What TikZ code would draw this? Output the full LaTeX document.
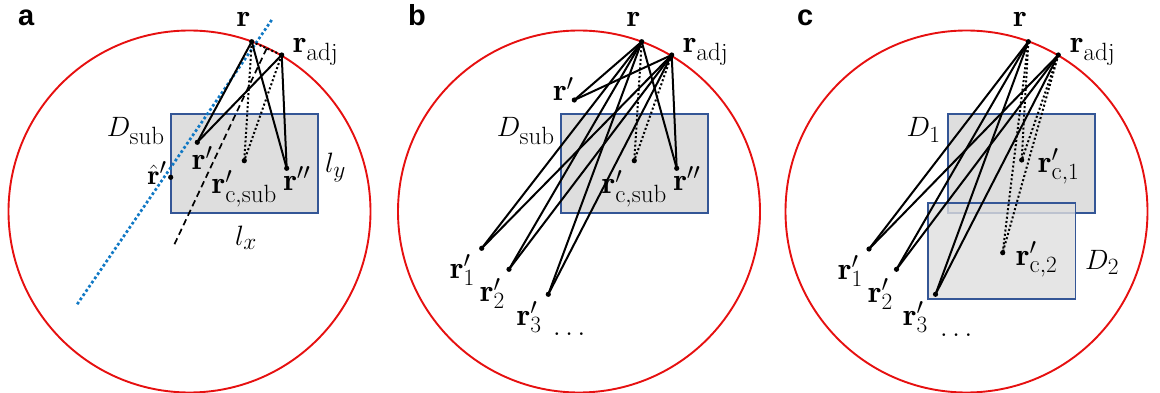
\documentclass[tikz,border=0pt]{standalone}
\usepackage{fontspec}
\usepackage{graphicx}
\usetikzlibrary{calc}
\newfontfamily\panelfont{Liberation Sans}
\DeclareMathSizes{20.74}{20.74}{18.5}{15}
\newcommand\lbl[1]{\scalebox{1.35}{$#1$}}
\newcommand\br{\scalebox{1.12}{$\mathbf{r}$}}
\definecolor{cred}{RGB}{230,16,16}
\definecolor{cblue}{RGB}{52,86,150}
\definecolor{cgray}{RGB}{222,222,222}
\definecolor{cdot}{RGB}{16,120,196}
\tikzset{
 ring/.style={draw=cred, line width=1.9pt},
 subdom/.style={draw=cblue, fill=cgray, line width=1.8pt},
 pt/.style={circle, fill=black, inner sep=0pt, minimum size=5.2pt},
 ray/.style={line width=2pt, line cap=round},
 dray/.style={line width=2pt, dash pattern=on 2pt off 2.3pt},
 bis/.style={line width=1.7pt, dash pattern=on 6.5pt off 4pt},
 tanline/.style={draw=cdot, line width=2.7pt, dash pattern=on 2.7pt off 2.4pt},
 lab/.style={inner sep=0pt, font=\fontsize{20.74}{24}\selectfont},
 panel/.style={inner sep=0pt, font=\panelfont\bfseries\fontsize{29}{32}\selectfont},
}
\begin{document}
\begin{tikzpicture}[x=1pt,y=-1pt]
\useasboundingbox (0,0) rectangle (1160,393);

% ================= panel a =================
\node[panel, anchor=base west] (pa) at (18,26) {a};
\draw[ring] (189.5,211.5) circle[radius=181];
\draw[subdom] (170.7,114) rectangle (318.3,212.7);
\node[pt] (a-r) at (251.7,41.7) {};
\node[pt] (a-radj) at (281.7,55) {};
\node[pt] (a-rp) at (197.3,142.3) {};
\node[pt] (a-rhat) at (170.7,177.3) {};
\node[pt] (a-rc) at (244.3,160.7) {};
\node[pt] (a-rpp) at (286.7,168.3) {};
\coordinate (a-bt) at (271.7,20);
\coordinate (a-bb) at (76,306);
\coordinate (a-mid) at ($(a-r)!0.5!(a-radj)$);
\coordinate (a-lx) at (173.3,246.7);
\draw[tanline] (a-bt) -- (a-bb);
\draw[bis] (a-mid) -- (a-lx);
\draw[dray] (a-r.center) -- (a-radj.center);
\draw[ray] (a-r.center) -- (a-rp.center);
\draw[ray] (a-radj.center) -- (a-rp.center);
\draw[ray] (a-r.center) -- (a-rpp.center);
\draw[ray] (a-radj.center) -- (a-rpp.center);
\draw[dray] (a-r.center) -- (a-rc.center);
\draw[dray] (a-radj.center) -- (a-rc.center);
\node[lab, anchor=base] (a-lr) at (243.5,27) {\lbl{\br}};
\node[lab, anchor=base west] (a-lradj) at (293,53) {\lbl{\br_{\mathrm{adj}}}};
\node[lab, anchor=base east] (a-lD) at (165,137) {\lbl{D_{\mathrm{sub}}}};
\node[lab, anchor=base west] (a-lrp) at (192,170) {\lbl{\br'}};
\node[lab, anchor=base east] (a-lrhat) at (167,185) {\lbl{\hat{\mathbf{r}}'}};
\node[lab, anchor=base west] (a-lrc) at (211.7,193.3) {\lbl{\br'_{\mathrm{c,sub}}}};
\node[lab, anchor=base west] (a-lrpp) at (283.3,190) {\lbl{\br''}};
\node[lab, anchor=base west] (a-ly) at (325,173) {\lbl{l_y}};
\node[lab, anchor=base west] (a-lxl) at (235,245) {\lbl{l_x}};

% ================= panel b =================
\node[panel, anchor=base west] (pb) at (408,26) {b};
\draw[ring] (579,211.5) circle[radius=181];
\draw[subdom] (560.7,114) rectangle (708.3,212.7);
\node[pt] (b-r) at (641.7,41.7) {};
\node[pt] (b-radj) at (671.7,55) {};
\node[pt] (b-rp) at (574.3,100) {};
\node[pt] (b-rc) at (634.3,160.7) {};
\node[pt] (b-rpp) at (676.7,168.3) {};
\node[pt] (b-r1) at (481.7,248.3) {};
\node[pt] (b-r2) at (509,269.3) {};
\node[pt] (b-r3) at (548.3,294.3) {};
\foreach \t in {rp,rpp,r1,r2,r3}{
  \draw[ray] (b-r.center) -- (b-\t.center);
  \draw[ray] (b-radj.center) -- (b-\t.center);
}
\draw[dray] (b-r.center) -- (b-rc.center);
\draw[dray] (b-radj.center) -- (b-rc.center);
\node[lab, anchor=base] (b-lr) at (633.5,27) {\lbl{\br}};
\node[lab, anchor=base west] (b-lradj) at (683,53) {\lbl{\br_{\mathrm{adj}}}};
\node[lab, anchor=base east] (b-lD) at (555,137) {\lbl{D_{\mathrm{sub}}}};
\node[lab, anchor=base east] (b-lrp) at (574,101) {\lbl{\br'}};
\node[lab, anchor=base west] (b-lrc) at (601.7,193.3) {\lbl{\br'_{\mathrm{c,sub}}}};
\node[lab, anchor=base west] (b-lrpp) at (673.3,190) {\lbl{\br''}};
\node[lab, anchor=base west] (b-lr1) at (450,278) {\lbl{\br'_1}};
\node[lab, anchor=base west] (b-lr2) at (480,301.5) {\lbl{\br'_2}};
\node[lab, anchor=base west] (b-lr3) at (516.7,325) {\lbl{\br'_3}};
\node[lab, anchor=base west] (b-ldots) at (553,335) {\lbl{\dots}};

% ================= panel c =================
\node[panel, anchor=base west] (pc) at (797,26) {c};
\draw[ring] (966.5,211.5) circle[radius=181];
\draw[subdom] (947.7,114) rectangle (1095.3,212.7);
\draw[subdom, fill opacity=0.8] (928.3,202.7) rectangle (1075.5,299.3);
\node[pt] (c-r) at (1028.3,41.7) {};
\node[pt] (c-radj) at (1058.3,55) {};
\node[pt] (c-rc1) at (1021.7,160) {};
\node[pt] (c-rc2) at (1002.7,252.7) {};
\node[pt] (c-r1) at (869,249) {};
\node[pt] (c-r2) at (896.5,269.3) {};
\node[pt] (c-r3) at (935.5,294.3) {};
\foreach \t in {r1,r2,r3}{
  \draw[ray] (c-r.center) -- (c-\t.center);
  \draw[ray] (c-radj.center) -- (c-\t.center);
}
\foreach \t in {rc1,rc2}{
  \draw[dray] (c-r.center) -- (c-\t.center);
  \draw[dray] (c-radj.center) -- (c-\t.center);
}
\node[lab, anchor=base] (c-lr) at (1020,27) {\lbl{\br}};
\node[lab, anchor=base west] (c-lradj) at (1070,53) {\lbl{\br_{\mathrm{adj}}}};
\node[lab, anchor=base east] (c-lD1) at (941,137) {\lbl{D_1}};
\node[lab, anchor=base west] (c-lD2) at (1085,269) {\lbl{D_2}};
\node[lab, anchor=base west] (c-lrc1) at (1038,172) {\lbl{\br'_{\mathrm{c},1}}};
\node[lab, anchor=base west] (c-lrc2) at (1016,265) {\lbl{\br'_{\mathrm{c},2}}};
\node[lab, anchor=base west] (c-lr1) at (838,279) {\lbl{\br'_1}};
\node[lab, anchor=base west] (c-lr2) at (868,302) {\lbl{\br'_2}};
\node[lab, anchor=base west] (c-lr3) at (903,325) {\lbl{\br'_3}};
\node[lab, anchor=base west] (c-ldots) at (940,336) {\lbl{\dots}};
\end{tikzpicture}
\end{document}
